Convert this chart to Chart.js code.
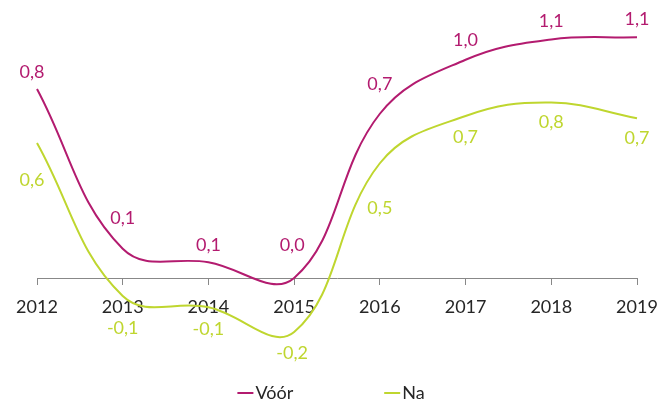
<!DOCTYPE html>
<html>
<head>
<meta charset="utf-8">
<script src="https://cdn.jsdelivr.net/npm/chart.js@4/dist/chart.umd.min.js"></script>
<style>
  html, body { margin: 0; padding: 0; background: #fff; }
</style>
</head>
<body>
<canvas id="grafico" width="662" height="406"></canvas>
<script>
// jaren en waarden
var years = ['2012', '2013', '2014', '2015', '2016', '2017', '2018', '2019'];
var voor = [0.84, 0.13, 0.07, 0.0, 0.73, 0.97, 1.06, 1.07];
var na = [0.60, -0.08, -0.13, -0.24, 0.51, 0.72, 0.78, 0.71];
var seriesNames = ['Vóór', 'Na'];

// plaatsing van de waardelabels t.o.v. het punt (px)
var voorLabelDy = [-17, -31, -17, -33, -30, -20, -18, -18];
var naLabelDy = [37, 32, 22, 21, 45, 21, 20, 20];
var labelDx = [-5, 0, 0, -2, 0, 0, 0, 0];

var fontFamily = 'Lato';
var textColor = '#262626';

var valueLabels = {
    id: 'valueLabels',
    afterDatasetsDraw: function (chart) {
        var ctx = chart.ctx;
        ctx.save();
        ctx.font = '18px ' + fontFamily;
        ctx.textAlign = 'center';
        ctx.textBaseline = 'middle';
        chart.data.datasets.forEach(function (ds, d) {
            var meta = chart.getDatasetMeta(d);
            ctx.fillStyle = ds.borderColor;
            meta.data.forEach(function (pt, i) {
                var txt = ds.data[i].toFixed(1).replace('.', ',');
                ctx.fillText(txt, pt.x + labelDx[i], pt.y + ds.labelDy[i]);
            });
        });
        ctx.restore();
    }
};

var lineLegend = {
    id: 'lineLegend',
    afterDraw: function (chart) {
        var ctx = chart.ctx;
        var sw = 16, sp = 2, gap = 91;
        ctx.save();
        ctx.font = '18px ' + fontFamily;
        ctx.textBaseline = 'middle';
        var items = chart.data.datasets.map(function (ds) {
            return { ds: ds, w: ctx.measureText(ds.label).width };
        });
        var total = 0;
        items.forEach(function (it) { total += sw + sp + it.w; });
        total += gap * (items.length - 1);
        var x = chart.width / 2 - total / 2;
        var y = chart.height - 13;
        items.forEach(function (it) {
            ctx.strokeStyle = it.ds.borderColor;
            ctx.lineWidth = 2;
            ctx.beginPath();
            ctx.moveTo(x, y);
            ctx.lineTo(x + sw, y);
            ctx.stroke();
            ctx.fillStyle = textColor;
            ctx.fillText(it.ds.label, x + sw + sp, y);
            x += sw + sp + it.w + gap;
        });
        ctx.restore();
    }
};

var ctx = document.getElementById('grafico');
var chart = new Chart(ctx, {
    type: 'line',
    data: {
        labels: years,
        datasets: [
            {
                label: seriesNames[0],
                data: voor,
                borderColor: '#B31B6F',
                borderWidth: 2,
                pointRadius: 0,
                tension: 0.4,
                labelDy: voorLabelDy
            },
            {
                label: seriesNames[1],
                data: na,
                borderColor: '#BFD62F',
                borderWidth: 2,
                pointRadius: 0,
                tension: 0.4,
                labelDy: naLabelDy
            }
        ]
    },
    options: {
        responsive: false,
        animation: false,
        devicePixelRatio: 1,
        layout: { padding: { left: 37, right: 25, top: 8, bottom: 38 } },
        plugins: {
            legend: { display: false },
            tooltip: { enabled: false }
        },
        scales: {
            x: {
                position: { y: 0 },
                grid: { drawOnChartArea: false, drawTicks: true, tickLength: 6, color: '#888888' },
                border: { color: '#888888', width: 1 },
                ticks: {
                    color: textColor,
                    font: { family: fontFamily, size: 18 },
                    padding: 12,
                    maxRotation: 0,
                    autoSkip: false
                },
                afterFit: function (scale) {
                    scale.height = 0;
                    scale.paddingLeft = 0;
                    scale.paddingRight = 0;
                }
            },
            y: { display: false, min: -0.4, max: 1.2 }
        }
    },
    plugins: [valueLabels, lineLegend]
});
</script>
</body>
</html>
